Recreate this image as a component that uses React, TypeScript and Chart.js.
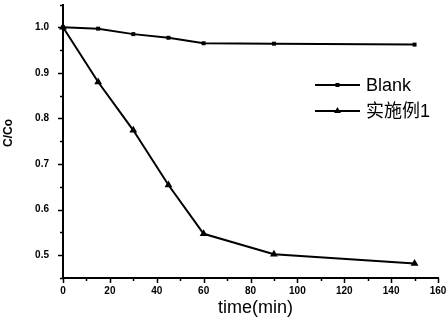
import React, { useEffect, useRef } from "react";
import { Chart, registerables } from "chart.js";

Chart.register(...registerables);

// ---- data ----
const times = [0, 15, 30, 45, 60, 90, 150];
const blankValues = [1.0, 0.997, 0.985, 0.977, 0.965, 0.964, 0.962];
const example1Values = [1.0, 0.88, 0.774, 0.654, 0.547, 0.502, 0.482];
const seriesLabels = ["Blank", "实施例1"];
const xMajorTicks = [0, 20, 40, 60, 80, 100, 120, 140, 160];
const xMinorTicks = [10, 30, 50, 70, 90, 110, 130, 150];
const yMajorTicks = [0.5, 0.6, 0.7, 0.8, 0.9, 1.0];
const yMinorTicks = [0.45, 0.55, 0.65, 0.75, 0.85, 0.95, 1.05];
const xTitle = "time(min)";
const yTitle = "C/Co";

const FONT = "'Liberation Sans', Arial, 'Noto Sans CJK SC', sans-serif";

const tickPlugin = {
  id: "customTicks",
  afterDraw(chart: any) {
    const { ctx } = chart;
    const xs = chart.scales.x;
    const ys = chart.scales.y;
    const area = chart.chartArea;
    ctx.save();
    ctx.strokeStyle = "#000";
    ctx.lineWidth = 1.5;
    ctx.beginPath();
    const drawX = (v: number, len: number) => {
      const px = Math.round(xs.getPixelForValue(v)) + 0.5;
      ctx.moveTo(px, area.bottom);
      ctx.lineTo(px, area.bottom + len);
    };
    const drawY = (v: number, len: number) => {
      const py = Math.round(ys.getPixelForValue(v)) + 0.5;
      ctx.moveTo(area.left, py);
      ctx.lineTo(area.left - len, py);
    };
    xMajorTicks.forEach((v) => drawX(v, 5));
    xMinorTicks.forEach((v) => drawX(v, 3));
    yMajorTicks.forEach((v) => drawY(v, 5));
    yMinorTicks.forEach((v) => drawY(v, 3));
    ctx.stroke();

    // axis titles
    ctx.fillStyle = "#000";
    ctx.textAlign = "center";
    ctx.textBaseline = "alphabetic";
    ctx.font = `18px ${FONT}`;
    ctx.fillText(xTitle, (area.left + area.right) / 2 + 5, 313);
    ctx.save();
    ctx.textBaseline = "middle";
    ctx.translate(9, 133);
    ctx.rotate(-Math.PI / 2);
    ctx.font = `bold 12px ${FONT}`;
    ctx.fillText(yTitle, 0, 0);
    ctx.restore();
    ctx.restore();
  },
};

const legendPlugin = {
  id: "customLegend",
  afterDatasetsDraw(chart: any) {
    const { ctx } = chart;
    const lineX0 = 315;
    const lineX1 = 360;
    const textX = 366;
    const rowY = [85, 111];
    ctx.save();
    chart.data.datasets.forEach((ds: any, i: number) => {
      const y = rowY[i];
      ctx.strokeStyle = "#000";
      ctx.lineWidth = 2;
      ctx.beginPath();
      ctx.moveTo(lineX0, y);
      ctx.lineTo(lineX1, y);
      ctx.stroke();
      ctx.fillStyle = "#000";
      ctx.beginPath();
      const cx = (lineX0 + lineX1) / 2;
      if (ds.pointStyle === "triangle") {
        const r = 4;
        ctx.moveTo(cx, y - r);
        ctx.lineTo(cx + r * 0.87, y + r * 0.5);
        ctx.lineTo(cx - r * 0.87, y + r * 0.5);
        ctx.closePath();
      } else {
        ctx.rect(cx - 2, y - 2, 4, 4);
      }
      ctx.fill();
      ctx.font = `18px ${FONT}`;
      ctx.textBaseline = "middle";
      ctx.textAlign = "left";
      ctx.fillText(ds.label, textX, y + 1);
    });
    ctx.restore();
  },
};

export default function App() {
  const canvasRef = useRef<HTMLCanvasElement>(null);

  useEffect(() => {
    const canvas = canvasRef.current;
    if (!canvas) return;
    const chart = new Chart(canvas, {
      type: "line",
      data: {
        datasets: [
          {
            label: seriesLabels[0],
            data: times.map((t, i) => ({ x: t, y: blankValues[i] })),
            borderColor: "#000",
            backgroundColor: "#000",
            borderWidth: 2,
            pointStyle: "rect",
            pointRadius: 2.8,
            pointBorderWidth: 0,
            tension: 0,
            clip: false,
          },
          {
            label: seriesLabels[1],
            data: times.map((t, i) => ({ x: t, y: example1Values[i] })),
            borderColor: "#000",
            backgroundColor: "#000",
            borderWidth: 2,
            pointStyle: "triangle",
            pointRadius: 4.5,
            pointBorderWidth: 0,
            tension: 0,
            clip: false,
          },
        ],
      },
      options: {
        responsive: false,
        animation: false,
        maintainAspectRatio: false,
        layout: { padding: { left: 0, right: 10, top: 3, bottom: 0 } },
        plugins: {
          legend: { display: false },
          tooltip: { enabled: false },
        },
        scales: {
          x: {
            type: "linear",
            min: 0,
            max: 160,
            afterBuildTicks: (s: any) => {
              s.ticks = xMajorTicks.map((v) => ({ value: v }));
            },
            afterFit: (s: any) => {
              s.height = 40;
              s.paddingLeft = 0;
              s.paddingRight = 0;
            },
            grid: { display: true, drawOnChartArea: false, drawTicks: false },
            border: { display: true, color: "#000", width: 2 },
            ticks: {
              color: "#000",
              padding: 7,
              maxRotation: 0,
              font: { family: FONT, size: 10, weight: "bold" },
            },
            title: { display: false },
          },
          y: {
            type: "linear",
            min: 0.45,
            max: 1.05,
            afterBuildTicks: (s: any) => {
              s.ticks = yMajorTicks.map((v) => ({ value: v }));
            },
            afterFit: (s: any) => {
              s.width = 63;
              s.paddingTop = 0;
              s.paddingBottom = 0;
            },
            grid: { display: true, drawOnChartArea: false, drawTicks: false },
            border: { display: true, color: "#000", width: 2 },
            ticks: {
              color: "#000",
              padding: 14,
              font: { family: FONT, size: 10, weight: "bold" },
              callback: (v: any) => Number(v).toFixed(1),
            },
            title: { display: false },
          },
        },
      },
      plugins: [tickPlugin, legendPlugin],
    });
    return () => chart.destroy();
  }, []);

  return (
    <div style={{ position: "fixed", left: 0, top: 0, width: 448, height: 318, background: "#fff" }}>
      <canvas ref={canvasRef} width={448} height={318} style={{ display: "block" }} />
    </div>
  );
}
